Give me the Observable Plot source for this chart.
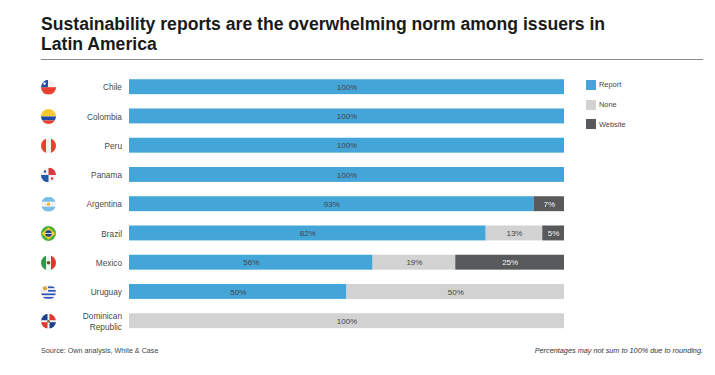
<!DOCTYPE html>
<html><head><meta charset="utf-8">
<script src="https://cdn.jsdelivr.net/npm/d3@7"></script>
<script src="https://cdn.jsdelivr.net/npm/@observablehq/plot@0.6"></script>
<style>
html,body{margin:0;padding:0;background:#fff;}
body{width:715px;height:375px;position:relative;overflow:hidden;font-family:"Liberation Sans",Arial,sans-serif;color:#222;}
#head{position:absolute;left:41px;top:14px;width:662px;height:45px;border-bottom:1px solid #8a8a8a;font-weight:700;font-size:17.6px;line-height:20px;color:#1a1a1a;box-sizing:content-box;}
#chart{position:absolute;left:0;top:60px;}
#legend{position:absolute;left:586px;top:75px;font-size:7.4px;color:#444;}
#legend div{display:flex;align-items:center;height:19.8px;}
#legend i{display:inline-block;width:10px;height:10px;margin-right:3px;}
#src{position:absolute;left:41px;top:346px;font-size:7.2px;color:#444;}
#note{position:absolute;right:12px;top:346px;font-size:7.3px;font-style:italic;color:#333;}
</style></head><body>
<div id="head">Sustainability reports are the overwhelming norm among issuers in<br>Latin America</div>
<div id="chart"></div>
<div id="legend"></div>
<div id="src">Source: Own analysis, White &amp; Case</div>
<div id="note">Percentages may not sum to 100% due to rounding.</div>
<script>
const countries = ["Chile","Colombia","Peru","Panama","Argentina","Brazil","Mexico","Uruguay","Dominican\nRepublic"];
const report  = [100,100,100,100,93,82,56,50,0];
const none    = [0,0,0,0,0,13,19,50,100];
const website = [0,0,0,0,7,5,25,0,0];
const types = ["Report","None","Website"];
const colors = ["#44a5d9","#d2d2d2","#58595b"];
const flagArt = [
 '<rect width="30" height="30" fill="#f1f1f1"/><rect y="15" width="30" height="15" fill="#e8402c"/><rect width="14" height="15" fill="#2450a8"/><circle cx="7" cy="7.5" r="2.4" fill="#fff"/>',
 '<rect width="30" height="15" fill="#f8c82e"/><rect y="15" width="30" height="8" fill="#1f4aa8"/><rect y="23" width="30" height="7" fill="#e8402c"/>',
 '<rect width="30" height="30" fill="#f1f1f1"/><rect width="10" height="30" fill="#e8402c"/><rect x="20" width="10" height="30" fill="#e8402c"/>',
 '<rect width="30" height="30" fill="#f1f1f1"/><rect x="15" width="15" height="15" fill="#d93a3a"/><rect y="15" width="15" height="15" fill="#2458a8"/><circle cx="8" cy="8" r="2.4" fill="#2458a8"/><circle cx="22" cy="22" r="2.4" fill="#d93a3a"/>',
 '<rect width="30" height="30" fill="#f1f1f1"/><rect width="30" height="10" fill="#79bfe8"/><rect y="20" width="30" height="10" fill="#79bfe8"/><circle cx="15" cy="15" r="3.2" fill="#f2b632"/>',
 '<rect width="30" height="30" fill="#4caf3f"/><path d="M15 3 29 15 15 27 1 15Z" fill="#f5d02c"/><circle cx="15" cy="15" r="6.5" fill="#1f3f8f"/><rect x="8" y="14" width="14" height="1.6" fill="#fff"/>',
 '<rect width="30" height="30" fill="#f1f1f1"/><rect width="10" height="30" fill="#2f9a4a"/><rect x="20" width="10" height="30" fill="#e0382c"/><circle cx="15" cy="15" r="3.6" fill="#7a4a2a"/>',
 '<rect width="30" height="30" fill="#f4f4f4"/><rect y="4" width="30" height="3.4" fill="#2f55b8"/><rect y="11" width="30" height="3.4" fill="#2f55b8"/><rect y="18" width="30" height="3.4" fill="#2f55b8"/><rect y="25" width="30" height="3.4" fill="#2f55b8"/><rect width="14" height="15" fill="#f4f4f4"/><circle cx="8" cy="8" r="4.2" fill="#e0a83a"/>',
 '<rect width="30" height="30" fill="#f1f1f1"/><rect width="13" height="13" fill="#1f3f8f"/><rect x="17" width="13" height="13" fill="#e0382c"/><rect y="17" width="13" height="13" fill="#e0382c"/><rect x="17" y="17" width="13" height="13" fill="#1f3f8f"/><circle cx="15" cy="15" r="2.6" fill="#7a5a3a"/>'
];
const flagSrc = flagArt.map(s => "data:image/svg+xml," + encodeURIComponent('<svg xmlns="http://www.w3.org/2000/svg" viewBox="0 0 30 30">' + s + '</svg>'));
const series = [report, none, website];
const rows = types.flatMap((t,k) => countries.map((c,i) => ({country:c, type:t, value:series[k][i]}))).filter(d => d.value > 0);
const flags = countries.map((c,i) => ({country:c, src:flagSrc[i]}));
const plot = Plot.plot({
  width:715, height:285, marginLeft:129, marginRight:151, marginTop:4.9, marginBottom:2.5,
  style:{fontFamily:'"Liberation Sans",Arial,sans-serif',background:"transparent"},
  x:{domain:[0,100],axis:null},
  y:{domain:countries,paddingInner:0.49,paddingOuter:0.49,align:0.5,round:false,label:null},
  color:{domain:types,range:colors},
  marks:[
    Plot.barX(rows,{x:"value",y:"country",fill:"type",z:"type",order:types}),
    Plot.text(rows,Plot.stackX({x:"value",y:"country",z:"type",order:types,text:d=>d.value+"%",fontSize:8,
      fill:d=>d.type==="Website"?"#f2f2f2":"#444"})),
    Plot.axisY({tickSize:0,tickPadding:7.5,fontSize:8.3,lineHeight:1.22,color:"#4a4a4a",label:null}),
    Plot.image(flags,{y:"country",src:"src",frameAnchor:"left",dx:-81,width:15,height:15,r:7.5})
  ]
});
document.getElementById("chart").append(plot);
const lg = document.getElementById("legend");
types.forEach((t,i)=>{const d=document.createElement("div");d.innerHTML=`<i style="background:${colors[i]}"></i>${t}`;lg.append(d);});
</script></body></html>
